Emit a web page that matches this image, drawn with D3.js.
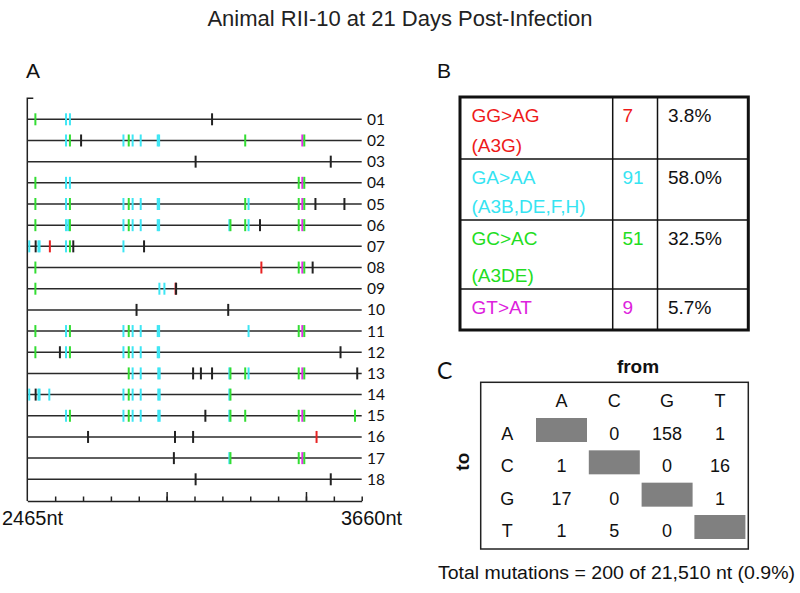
<!DOCTYPE html>
<html><head><meta charset="utf-8">
<script src="https://cdn.jsdelivr.net/npm/d3@7"></script>
<style>body{margin:0;background:#fff}svg{display:block}</style>
</head><body>
<script>
// ---------- DATA ----------
const title = "Animal RII-10 at 21 Days Post-Infection";
const rowLabels = ["01","02","03","04","05","06","07","08","09","10","11","12","13","14","15","16","17","18"];
// mutation positions (nt) per sequence, with mutation type
const rowMutations = [
  [[2494,"GC"],[2604,"GA"],[2618,"GA"],[3128,"O"]],
  [[2604,"GA"],[2618,"GC"],[2658,"O"],[2810,"GA"],[2829,"GC"],[2843,"GA"],[2872,"GA"],[2933,"GA"],[2938,"GA"],[3247,"GC"],[3452,"GT"],[3459,"GC"]],
  [[3069,"O"],[3554,"O"]],
  [[2494,"GC"],[2604,"GA"],[2618,"GA"],[3439,"GC"],[3452,"GT"],[3459,"GC"]],
  [[2494,"GC"],[2604,"GA"],[2618,"GC"],[2810,"GA"],[2829,"GC"],[2843,"GA"],[2872,"GA"],[2933,"GA"],[2938,"GA"],[3247,"GC"],[3259,"GA"],[3439,"GC"],[3452,"GT"],[3459,"GC"],[3499,"O"],[3603,"O"]],
  [[2494,"GC"],[2604,"GA"],[2612,"GA"],[2618,"GC"],[2810,"GA"],[2829,"GC"],[2843,"GA"],[2872,"GA"],[2933,"GA"],[2938,"GA"],[3190,"GA"],[3194,"GC"],[3247,"GC"],[3259,"GA"],[3300,"O"],[3439,"GC"],[3452,"GT"],[3459,"GC"]],
  [[2472,"GA"],[2495,"O"],[2505,"GA"],[2509,"GA"],[2546,"GG"],[2604,"GA"],[2618,"GC"],[2630,"O"],[2810,"GA"],[2884,"O"]],
  [[2494,"GC"],[3305,"GG"],[3439,"GC"],[3452,"GT"],[3459,"GC"],[3489,"O"]],
  [[2494,"GC"],[2939,"GA"],[2957,"GA"],[2997,"GG"],[2999,"O"]],
  [[2857,"O"],[3186,"O"]],
  [[2494,"GC"],[2604,"GA"],[2618,"GC"],[2810,"GA"],[2829,"GC"],[2843,"GA"],[2872,"GA"],[2933,"GA"],[2938,"GA"],[3259,"GA"],[3439,"GC"],[3452,"GT"],[3459,"GC"]],
  [[2494,"GC"],[2582,"O"],[2604,"GA"],[2618,"GC"],[2810,"GA"],[2829,"GC"],[2843,"GA"],[2872,"GA"],[2933,"GA"],[2938,"GA"],[3589,"O"]],
  [[2829,"GC"],[2843,"GA"],[2872,"GA"],[2935,"GA"],[2940,"GA"],[3060,"O"],[3088,"O"],[3128,"O"],[3190,"GA"],[3194,"GC"],[3247,"GC"],[3259,"GA"],[3439,"GC"],[3452,"GT"],[3459,"GC"],[3649,"O"]],
  [[2472,"GA"],[2495,"O"],[2505,"GA"],[2509,"GA"],[2544,"GA"],[2810,"GA"],[2829,"GC"],[2843,"GA"],[2872,"GA"],[2935,"GA"],[2940,"GA"],[3190,"GA"],[3194,"GC"]],
  [[2604,"GA"],[2618,"GC"],[2810,"GA"],[2829,"GC"],[2843,"GA"],[2872,"GA"],[2935,"GA"],[2940,"GA"],[3104,"O"],[3190,"GA"],[3194,"GC"],[3247,"GC"],[3439,"GC"],[3452,"GT"],[3459,"GC"],[3641,"GC"]],
  [[2683,"O"],[2995,"O"],[3060,"O"],[3503,"GG"]],
  [[2991,"O"],[3190,"GA"],[3194,"GC"],[3439,"GC"],[3452,"GT"],[3459,"GC"]],
  [[3069,"O"],[3554,"O"]]
];
const ntStart = 2465, ntEnd = 3665;
const axisStartLabel = "2465nt", axisEndLabel = "3660nt";
const minorTicks = [2565,2665,2765,2865,2965,3065,3165,3265,3365,3465,3565,3665];
const majorTicks = [2965,3465];

// Panel B table
const tblSignature = ["GG>AG","GA>AA","GC>AC","GT>AT"];
const tblEnzyme = ["(A3G)","(A3B,DE,F,H)","(A3DE)",""];
const tblCount = [7,91,51,9];
const tblPercent = ["3.8%","58.0%","32.5%","5.7%"];
const tblType = ["GG","GA","GC","GT"];

// Panel C matrix
const bases = ["A","C","G","T"];
const matrixTo = [ // rows: to, cols: from
  [null,0,158,1],
  [1,null,0,16],
  [17,0,null,1],
  [1,5,0,null]
];
const totalText = "Total mutations = 200 of 21,510 nt (0.9%)";

// ---------- STYLE ----------
const typeColor = {GG:"#e82222",GA:"#3ee6f4",GC:"#33dd33",GT:"#e02ee0",O:"#222222"};
const textColor = {GG:"#ee1a1a",GA:"#36e4f2",GC:"#22dd22",GT:"#dd22dd"};
const ARIAL = "'Liberation Sans', Arial, sans-serif";
const CAL = "Lato, 'Open Sans', sans-serif";

const svg = d3.select("body").append("svg").attr("width",800).attr("height",593);

svg.append("text").attr("x",400).attr("y",26).attr("text-anchor","middle")
  .style("font-family",ARIAL).style("font-size","22px").attr("fill","#222").text(title);

// ---------- Panel A ----------
svg.append("text").attr("x",26).attr("y",78).style("font-family",ARIAL).style("font-size","21px").attr("fill","#111").text("A");

const x = d3.scaleLinear().domain([ntStart,ntEnd]).range([27.3,361.7]);
const y = d3.scalePoint().domain(rowLabels).range([119.3,479.3]);
const axisY = 501;

const gA = svg.append("g");
// left bracket
gA.append("path").attr("d",`M${x(ntStart)+6},98.3H${x(ntStart)}V${axisY}`).attr("fill","none").attr("stroke","#222").attr("stroke-width",1.5);

const rows = gA.selectAll("g.row").data(rowLabels).join("g").attr("class","row")
  .attr("transform",d=>`translate(0,${y(d)})`);
rows.append("line").attr("x1",x(ntStart)).attr("x2",x(ntEnd)).attr("y1",0).attr("y2",0)
  .attr("stroke","#2a2a2a").attr("stroke-width",1.5);
rows.append("text").attr("x",367).attr("y",5.5).style("font-family",CAL).style("font-size","15.5px").attr("fill","#111").text(d=>d);
rows.each(function(d,i){
  d3.select(this).selectAll("line.m").data(rowMutations[i]).join("line").attr("class","m")
    .attr("x1",m=>x(m[0])).attr("x2",m=>x(m[0])).attr("y1",-6).attr("y2",6)
    .attr("stroke",m=>typeColor[m[1]]).attr("stroke-width",2);
});

// bottom axis
const axMinor = d3.axisBottom(x).tickValues(minorTicks).tickSizeInner(-4.5).tickSizeOuter(0).tickFormat("");
const axMajor = d3.axisBottom(x).tickValues(majorTicks).tickSizeInner(-9).tickSizeOuter(0).tickFormat("");
const gAx = gA.append("g").attr("transform",`translate(0,${axisY})`).call(axMinor);
const gAx2 = gA.append("g").attr("transform",`translate(0,${axisY})`).call(axMajor);
[gAx,gAx2].forEach(g=>{g.selectAll("path,line").attr("stroke","#222").attr("stroke-width",1.5);});
gAx2.select(".domain").remove();
gA.append("text").attr("x",2).attr("y",525).style("font-family",ARIAL).style("font-size","20px").attr("fill","#111").text(axisStartLabel);
gA.append("text").attr("x",341).attr("y",525).style("font-family",ARIAL).style("font-size","20px").attr("fill","#111").text(axisEndLabel);

// ---------- Panel B ----------
svg.append("text").attr("x",437).attr("y",77.5).style("font-family",ARIAL).style("font-size","21px").attr("fill","#111").text("B");
const rowEdges = [97,159,220,289,330];
const colEdges = [460,612.7,657.5,748.3];
const gB = svg.append("g");
gB.selectAll("line.h").data(rowEdges.slice(1,-1)).join("line").attr("x1",colEdges[0]).attr("x2",colEdges[3])
  .attr("y1",d=>d).attr("y2",d=>d).attr("stroke","#111").attr("stroke-width",1.5);
gB.selectAll("line.v").data(colEdges.slice(1,-1)).join("line").attr("y1",rowEdges[0]).attr("y2",rowEdges[4])
  .attr("x1",d=>d).attr("x2",d=>d).attr("stroke","#111").attr("stroke-width",1.5);
gB.append("rect").attr("x",colEdges[0]).attr("y",rowEdges[0]).attr("width",colEdges[3]-colEdges[0]).attr("height",rowEdges[4]-rowEdges[0])
  .attr("fill","none").attr("stroke","#111").attr("stroke-width",3);
tblSignature.forEach((s,i)=>{
  const top = rowEdges[i], bot = rowEdges[i+1], col = textColor[tblType[i]];
  const t = (xx,yy,txt,c)=>gB.append("text").attr("x",xx).attr("y",yy).style("font-family",ARIAL).style("font-size","19px").attr("fill",c).text(txt);
  t(471.5, top+24.5, s, col);
  if (tblEnzyme[i]) t(471.5, bot-7.5, tblEnzyme[i], col);
  t(622.5, top+24.5, tblCount[i], col);
  t(668, top+24.5, tblPercent[i], "#111");
});

// ---------- Panel C ----------
svg.append("text").attr("x",437).attr("y",378.5).style("font-family",CAL).style("font-size","23px").attr("fill","#111").text("C");
const gC = svg.append("g");
gC.append("rect").attr("x",480.7).attr("y",382.3).attr("width",267.6).attr("height",166.7)
  .attr("fill","none").attr("stroke","#222").attr("stroke-width",1.5);
gC.append("text").attr("x",638).attr("y",373).attr("text-anchor","middle").style("font-family",ARIAL)
  .style("font-size","19px").style("font-weight","bold").attr("fill","#111").text("from");
gC.append("text").attr("transform","translate(469,461.7) rotate(-90)").attr("text-anchor","middle").style("font-family",ARIAL)
  .style("font-size","19px").style("font-weight","bold").attr("fill","#111").text("to");
const cx = d3.scalePoint().domain(bases).range([561.5,719.9]);
const cy = d3.scalePoint().domain(bases).range([440,537]);
gC.selectAll("text.ch").data(bases).join("text").attr("class","ch").attr("x",d=>cx(d)).attr("y",406.7)
  .attr("text-anchor","middle").style("font-family",ARIAL).style("font-size","18px").attr("fill","#111").text(d=>d);
gC.selectAll("text.rh").data(bases).join("text").attr("class","rh").attr("x",507.3).attr("y",d=>cy(d))
  .attr("text-anchor","middle").style("font-family",ARIAL).style("font-size","18px").attr("fill","#111").text(d=>d);
matrixTo.forEach((row,ri)=>{
  row.forEach((v,ci)=>{
    const xx = cx(bases[ci]), yy = cy(bases[ri]);
    if (v===null){
      gC.append("rect").attr("x",xx-25.5).attr("y",yy-22).attr("width",51).attr("height",24).attr("fill","#808080");
    } else {
      gC.append("text").attr("x",xx).attr("y",yy).attr("text-anchor","middle").style("font-family",ARIAL)
        .style("font-size","18px").attr("fill","#111").text(v);
    }
  });
});
svg.append("text").attr("x",438).attr("y",578.5).style("font-family",ARIAL).style("font-size","18px")
  .attr("textLength",357).attr("lengthAdjust","spacingAndGlyphs").attr("fill","#111").text(totalText);
</script>
</body></html>
